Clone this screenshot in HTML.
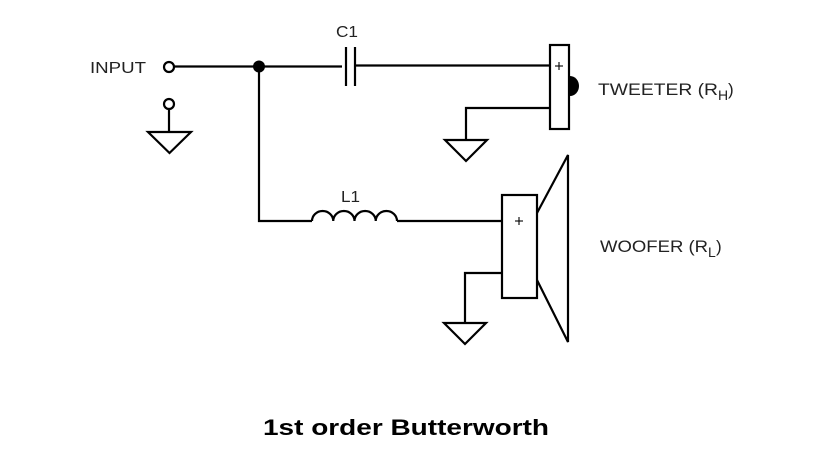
<!DOCTYPE html>
<html><head><meta charset="utf-8"><style>
html,body{margin:0;padding:0;background:#fff;}
svg{display:block;}
text{font-family:"Liberation Sans",sans-serif;fill:#222;}
</style></head><body>
<svg width="826" height="473" viewBox="0 0 826 473" xmlns="http://www.w3.org/2000/svg">
<g stroke="#000" stroke-width="2.2" fill="none">
<circle cx="169" cy="67" r="5"/>
<line x1="174" y1="66.5" x2="342" y2="66.5"/>
<circle cx="259" cy="66.5" r="6" fill="#000" stroke="none"/>
<line x1="346" y1="47" x2="346" y2="86"/>
<line x1="355" y1="47" x2="355" y2="86"/>
<line x1="355" y1="65.5" x2="550" y2="65.5"/>
<circle cx="169" cy="104" r="5"/>
<line x1="169" y1="109" x2="169" y2="132"/>
<polygon points="148,132 191,132 169.5,153"/>
<path d="M570,76 A9,10 0 0 1 570,96 Z" fill="#000" stroke="none"/>
<rect x="550" y="45" width="19" height="84" fill="#fff"/>
<polyline points="550,108 466,108 466,140"/>
<polygon points="445,140 487,140 466,161"/>
<polyline points="259,66 259,221 312,221"/>
<path d="M312,221 A10.6,10 0 0 1 333.25,221 A10.6,10 0 0 1 354.5,221 A10.6,10 0 0 1 375.75,221 A10.6,10 0 0 1 397,221"/>
<line x1="397" y1="221" x2="502" y2="221"/>
<rect x="502" y="195" width="35" height="103" fill="#fff"/>
<polyline points="537,213 568,155 568,342 537,280"/>
<polyline points="502,273 465,273 465,323"/>
<polygon points="444,323 486,323 465,344"/>
</g>
<g stroke="#000" stroke-width="1.1">
<line x1="555" y1="66" x2="563" y2="66"/><line x1="559" y1="62" x2="559" y2="70"/>
<line x1="515" y1="221" x2="523" y2="221"/><line x1="519" y1="217" x2="519" y2="225"/>
</g>
<text x="336" y="37" font-size="16" textLength="22" lengthAdjust="spacingAndGlyphs">C1</text>
<text x="341" y="202" font-size="16" textLength="19" lengthAdjust="spacingAndGlyphs">L1</text>
<text x="90" y="73" font-size="16" textLength="56" lengthAdjust="spacingAndGlyphs">INPUT</text>
<text x="598" y="95" font-size="17" textLength="120" lengthAdjust="spacingAndGlyphs">TWEETER (R</text>
<text x="718" y="100" font-size="14">H</text><text x="728" y="95" font-size="17">)</text>
<text x="600" y="252" font-size="17" textLength="108" lengthAdjust="spacingAndGlyphs">WOOFER (R</text>
<text x="708" y="257" font-size="14">L</text><text x="716" y="252" font-size="17">)</text>
<text x="263" y="435" font-size="22" font-weight="bold" textLength="286" lengthAdjust="spacingAndGlyphs" style="fill:#000">1st order Butterworth</text>
</svg>
</body></html>
